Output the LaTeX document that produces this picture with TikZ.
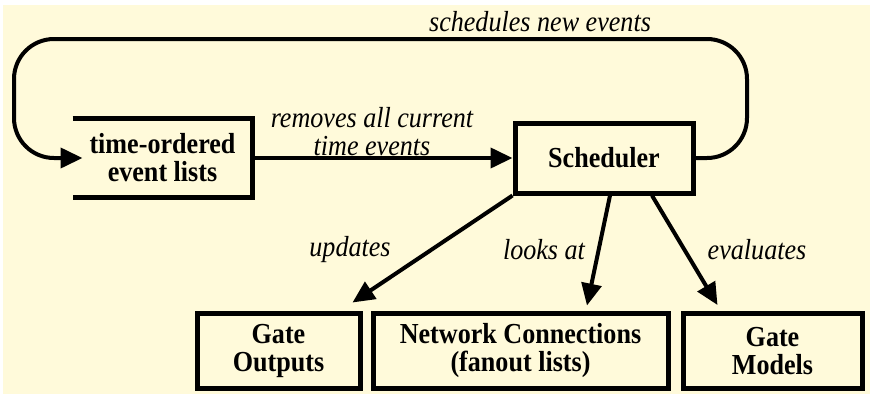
\documentclass[tikz,border=0pt]{standalone}
\usepackage{fontspec}
\setmainfont{Liberation Serif}[FakeStretch=0.9]
\usetikzlibrary{arrows.meta}
\definecolor{cream}{RGB}{255,250,218}

\tikzset{
  box/.style={draw, line width=5pt, inner sep=0pt, align=center,
    font=\fontsize{29}{28}\selectfont\bfseries},
  lbl/.style={inner sep=0pt, align=center,
    font=\fontsize{29}{28}\selectfont\itshape},
  flow/.style={line width=4pt, arrows={-{Triangle[length=22pt,width=20pt]}}}
}

\begin{document}
\begin{tikzpicture}[x=1pt, y=-1pt]
\useasboundingbox (0, 0) rectangle (870, 394);
\fill[white] (0, 0) rectangle (870, 394);
\fill[cream] (3, 5) rectangle (870, 394);

\node (evl) [box, draw=none, minimum width=175pt, minimum height=74pt] at (162.5, 158) {time-ordered\\event lists};
\node (sched) [box, minimum width=178pt, minimum height=70pt] at (604, 158) {Scheduler};
\node (gout) [box, minimum width=163pt, minimum height=75pt] at (278.5, 350.5) {Gate\\Outputs};
\node (net) [box, minimum width=295pt, minimum height=75pt] at (520.5, 350.5) {Network Connections\\(fanout lists)};
\node (gmod) [box, minimum width=179pt, minimum height=75pt] at (772.5, 351) {Gate\\Models};

\draw [line width=5pt] (evl.north west) -- (evl.north east) -- (evl.south east) -- (evl.south west);

\draw [flow, rounded corners=40pt] (sched.east) -- (747, 158) -- (747, 39) -- (14, 39) -- (14, 158) -- ([xshift=10pt]evl.west);
\draw [flow] (evl.east) -- (sched.west);
\draw [flow] (sched.south west) -- ([xshift=-10pt, yshift=8pt]gout.north east);
\draw [flow] ([xshift=6pt]sched.south) -- ([xshift=66.5pt, yshift=5pt]net.north);
\draw [flow] ([xshift=48pt]sched.south) -- ([xshift=37pt, yshift=6pt]gmod.north west);

\node (sne) [lbl] at (540, 22) {schedules new events};
\node (rem) [lbl] at (372, 132) {removes all current\\time events};
\node (upd) [lbl] at (350, 250) {updates};
\node (lka) [lbl] at (544, 250) {looks at};
\node (evb) [lbl] at (757, 250) {evaluates};

\end{tikzpicture}
\end{document}
